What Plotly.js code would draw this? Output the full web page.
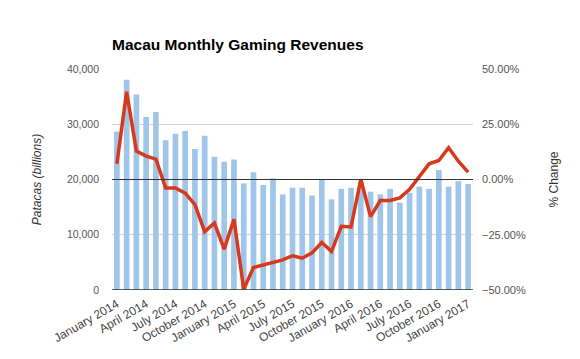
<!DOCTYPE html>
<html>
<head>
<meta charset="utf-8">
<script src="https://cdn.plot.ly/plotly-3.0.1.min.js"></script>
<style>html,body{margin:0;padding:0;background:#fff}#chart{width:580px;height:359px}</style>
</head>
<body>
<div id="chart"></div>
<script>
const months = [
  "January 2014","February 2014","March 2014","April 2014","May 2014","June 2014",
  "July 2014","August 2014","September 2014","October 2014","November 2014","December 2014",
  "January 2015","February 2015","March 2015","April 2015","May 2015","June 2015",
  "July 2015","August 2015","September 2015","October 2015","November 2015","December 2015",
  "January 2016","February 2016","March 2016","April 2016","May 2016","June 2016",
  "July 2016","August 2016","September 2016","October 2016","November 2016","December 2016",
  "January 2017"
];
const revenues = [
  28700, 38060, 35400, 31300, 32200, 27100, 28300, 28800, 25500, 27900, 24100, 23200,
  23600, 19300, 21300, 19000, 20200, 17300, 18500, 18500, 17100, 19900, 16400, 18300,
  18500, 19500, 17800, 17300, 18300, 15800, 17600, 18700, 18300, 21700, 18700, 19700,
  19200
];
const pctChange = [
  0.071, 0.397, 0.129, 0.106, 0.092, -0.038, -0.038, -0.062, -0.114, -0.236, -0.197, -0.315,
  -0.180, -0.497, -0.398, -0.386, -0.373, -0.364, -0.345, -0.356, -0.332, -0.285, -0.326, -0.212,
  -0.215, 0.001, -0.168, -0.095, -0.095, -0.083, -0.044, 0.011, 0.071, 0.086, 0.144, 0.083,
  0.033
];
const tickMonths = months.filter((m, i) => i % 3 === 0);

const font = "Liberation Sans, Arial, sans-serif";

const traces = [
  {
    type: "bar", x: months, y: revenues, yaxis: "y",
    marker: {color: "#9fc5e8"}, hoverinfo: "x+y"
  },
  {
    type: "scatter", mode: "lines", x: months, y: pctChange, yaxis: "y2",
    line: {color: "#d8391c", width: 3.5}
  }
];

const layout = {
  width: 580, height: 359,
  margin: {l: 112, r: 107, t: 69, b: 69},
  paper_bgcolor: "#fff", plot_bgcolor: "#fff",
  showlegend: false,
  bargap: 0.42,
  font: {family: font, color: "#555", size: 11},
  title: {
    text: "<b>Macau Monthly Gaming Revenues</b>",
    font: {family: font, size: 15.5, color: "#000"},
    x: 112/580, xanchor: "left", y: 1 - 45/359, yanchor: "middle"
  },
  xaxis: {
    type: "category",
    tickmode: "array", tickvals: tickMonths, ticktext: tickMonths,
    tickangle: -30, ticks: "", showgrid: false,
    showline: false, zeroline: false,
    ticklabelstandoff: 4,
    tickfont: {family: font, size: 12, color: "#444"}
  },
  yaxis: {
    range: [0, 40000], dtick: 10000, tickformat: ",d",
    showgrid: true, gridcolor: "#d3d3d3", gridwidth: 1,
    zeroline: false, showline: false, ticks: "",
    ticklabelstandoff: 12,
    tickfont: {family: font, size: 10.5, color: "#555"},
    title: {text: "<i>Patacas (billions)</i>", font: {family: font, size: 12, color: "#333"}, standoff: 22}
  },
  yaxis2: {
    overlaying: "y", side: "right",
    range: [-0.5, 0.5], dtick: 0.25, tickformat: ".2%",
    showgrid: false, zeroline: false, showline: false, ticks: "",
    ticklabelstandoff: 8,
    tickfont: {family: font, size: 11, color: "#555"},
    title: {text: "% Change", font: {family: font, size: 12, color: "#333"}, standoff: 24}
  },
  shapes: [
    {type: "line", xref: "paper", x0: 0, x1: 1, yref: "y2", y0: 0, y1: 0,
     line: {color: "#333", width: 1.2}, layer: "above"},
    {type: "line", xref: "paper", x0: 0, x1: 1, yref: "y", y0: 0, y1: 0,
     line: {color: "#333", width: 1.5}, layer: "above"}
  ]
};

Plotly.newPlot("chart", traces, layout, {displayModeBar: false, staticPlot: true});
</script>
</body>
</html>
